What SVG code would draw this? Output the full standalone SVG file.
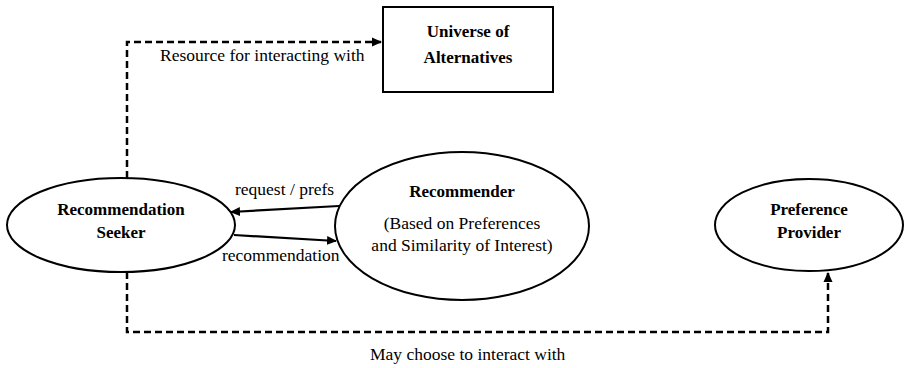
<svg xmlns="http://www.w3.org/2000/svg" width="905" height="368" viewBox="0 0 905 368">
  <defs>
    <marker id="arrow" viewBox="0 0 10 10" refX="9" refY="5" markerWidth="10" markerHeight="10" markerUnits="userSpaceOnUse" orient="auto">
      <path d="M0,0.5 L10,5 L0,9.5 z" fill="#000"/>
    </marker>
  </defs>
  <style>
    .shape { fill: #fff; stroke: #000; stroke-width: 2; }
    .title { font-family: "Liberation Serif", "Times New Roman", serif; font-size: 17px; font-weight: bold; text-anchor: middle; fill: #000; }
    .label { font-family: "Liberation Serif", "Times New Roman", serif; font-size: 17.5px; fill: #000; }
    .mid { text-anchor: middle; }
    .solid { fill: none; stroke: #000; stroke-width: 2.2; }
    .dashed { fill: none; stroke: #000; stroke-width: 2.5; stroke-dasharray: 7 4; }
  </style>
  <rect width="905" height="368" fill="#fff"/>

  <g id="connectors">
    <!-- seeker to universe of alternatives -->
    <polyline class="dashed" points="127,178 127,42 381,42" marker-end="url(#arrow)"/>
    <!-- seeker to preference provider -->
    <polyline class="dashed" points="127,272 127,332 828,332 828,273" marker-end="url(#arrow)"/>
    <!-- recommender to seeker -->
    <line class="solid" x1="339" y1="206" x2="231" y2="212" marker-end="url(#arrow)"/>
    <!-- seeker to recommender -->
    <line class="solid" x1="234" y1="235" x2="336" y2="241" marker-end="url(#arrow)"/>
    <text class="label" x="235" y="195">request / prefs</text>
    <text class="label" x="222" y="261">recommendation</text>
    <text class="label" x="160" y="61">Resource for interacting with</text>
    <text class="label" x="370" y="360">May choose to interact with</text>
  </g>

  <g id="universe">
    <rect class="shape" x="383" y="7" width="170" height="85"/>
    <text class="title" x="468" y="37">Universe of</text>
    <text class="title" x="468" y="63">Alternatives</text>
  </g>

  <g id="seeker">
    <ellipse class="shape" cx="121" cy="225" rx="114" ry="47"/>
    <text class="title" x="121" y="215">Recommendation</text>
    <text class="title" x="121" y="238">Seeker</text>
  </g>

  <g id="recommender">
    <ellipse class="shape" cx="462" cy="226" rx="127" ry="74"/>
    <text class="title" x="462" y="197">Recommender</text>
    <text class="label mid" x="462" y="229">(Based on Preferences</text>
    <text class="label mid" x="462" y="251">and Similarity of Interest)</text>
  </g>

  <g id="provider">
    <ellipse class="shape" cx="809" cy="225" rx="94" ry="46"/>
    <text class="title" x="809" y="215">Preference</text>
    <text class="title" x="809" y="238">Provider</text>
  </g>
</svg>
